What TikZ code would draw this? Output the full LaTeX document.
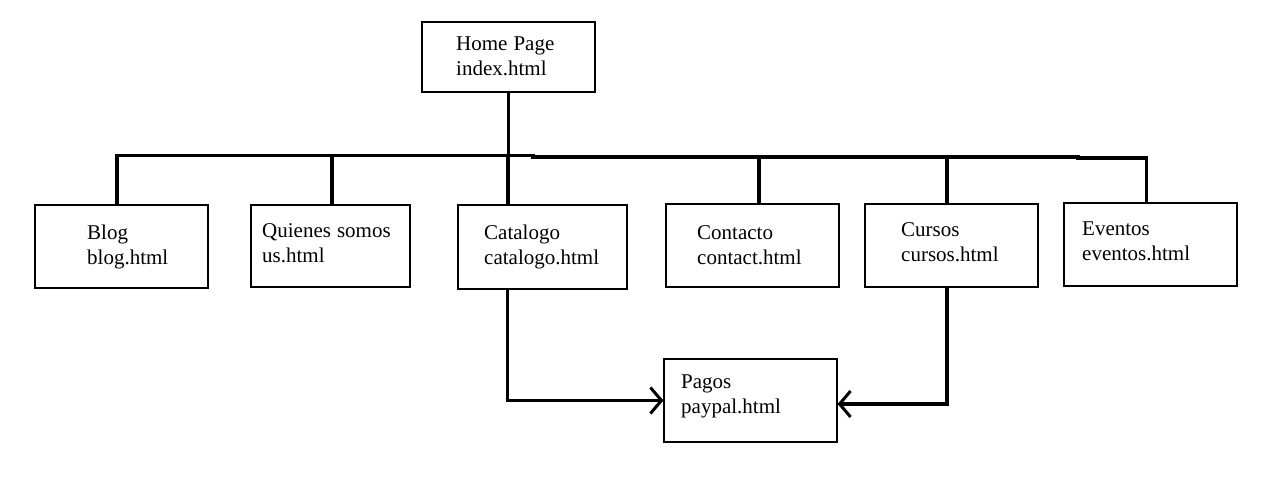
\documentclass[tikz,border=0pt]{standalone}
\usepackage{fontspec}
\setmainfont{Liberation Serif}
\usetikzlibrary{arrows.meta,calc}
\begin{document}
\begin{tikzpicture}[x=1pt,y=-1pt,
  pagebox/.style={draw,line width=1.2pt,minimum width=#1,minimum height=83pt,inner sep=0pt},
  pagebox/.default=173pt,
  lbl/.style={anchor=north west,align=left,inner sep=0pt,font=\fontsize{21}{25}\selectfont},
  link/.style={line width=3.2pt},
  arr/.style={line width=3.2pt,-{Straight Barb[length=11pt,width=26pt,line width=3pt]}}]
\useasboundingbox (0,0) rectangle (1266,489);
% boxes (centres)
\node[pagebox=173pt,minimum height=70pt] (home) at (508.5,57) {};
\node[pagebox=173pt] (blog) at (121.5,246.5) {};
\node[pagebox=159pt,minimum height=82pt] (quienes) at (330.5,246) {};
\node[pagebox=169pt,minimum height=84pt] (catalogo) at (542.5,247) {};
\node[pagebox=173pt] (contacto) at (752.5,245.5) {};
\node[pagebox=173pt] (cursos) at (951.5,245.5) {};
\node[pagebox=173pt] (eventos) at (1150.5,244.5) {};
\node[pagebox=173pt] (pagos) at (750.5,400.5) {};
% labels
\node[lbl] (homeT) at (456,37) {Home\hspace{6pt}Page\\index.html};
\node[lbl] (blogT) at (87,225) {Blog\\blog.html};
\node[lbl] (quienesT) at (262,223) {Quienes\hspace{6pt}somos\\us.html};
\node[lbl] (catalogoT) at (484,225) {Catalogo\\catalogo.html};
\node[lbl] (contactoT) at (697,225) {Contacto\\contact.html};
\node[lbl] (cursosT) at (901,222) {Cursos\\cursos.html};
\node[lbl] (eventosT) at (1082,222) {Eventos\\eventos.html};
\node[lbl] (pagosT) at (681,375) {Pagos\\paypal.html};
% bus
\coordinate (busL) at (115.5,155.5);
\coordinate (busM) at (533,157);
\coordinate (busR) at (1147.5,158);
\draw[link] (busL) -- (busL -| busM) -- (busM) -- (1078,157) -- (1078,158) -- (busR);
\draw[link] (home.south) -- (home.south |- busL);
\draw[link] ($(blog.north)+(-4.5,0)$) -- ($(blog.north)+(-4.5,-50)$);
\draw[link] ($(quienes.north)+(1.5,0)$) -- ($(quienes.north)+(1.5,-50)$);
\draw[link] ($(catalogo.north)+(-34.5,0)$) -- ($(catalogo.north)+(-34.5,-50)$);
\draw[link] ($(contacto.north)+(6.5,0)$) -- ($(contacto.north)+(6.5,-47)$);
\draw[link] ($(cursos.north)+(-4.5,0)$) -- ($(cursos.north)+(-4.5,-47)$);
\draw[link] ($(eventos.north)+(-4,0)$) -- ($(eventos.north)+(-4,-45)$);
% arrows to Pagos
\draw[arr] ($(catalogo.south)+(-35,0)$) |- (pagos.west);
\draw[arr] ($(cursos.south)+(-4.5,0)$) |- ($(pagos.east)+(0,3.5)$);
\end{tikzpicture}
\end{document}
